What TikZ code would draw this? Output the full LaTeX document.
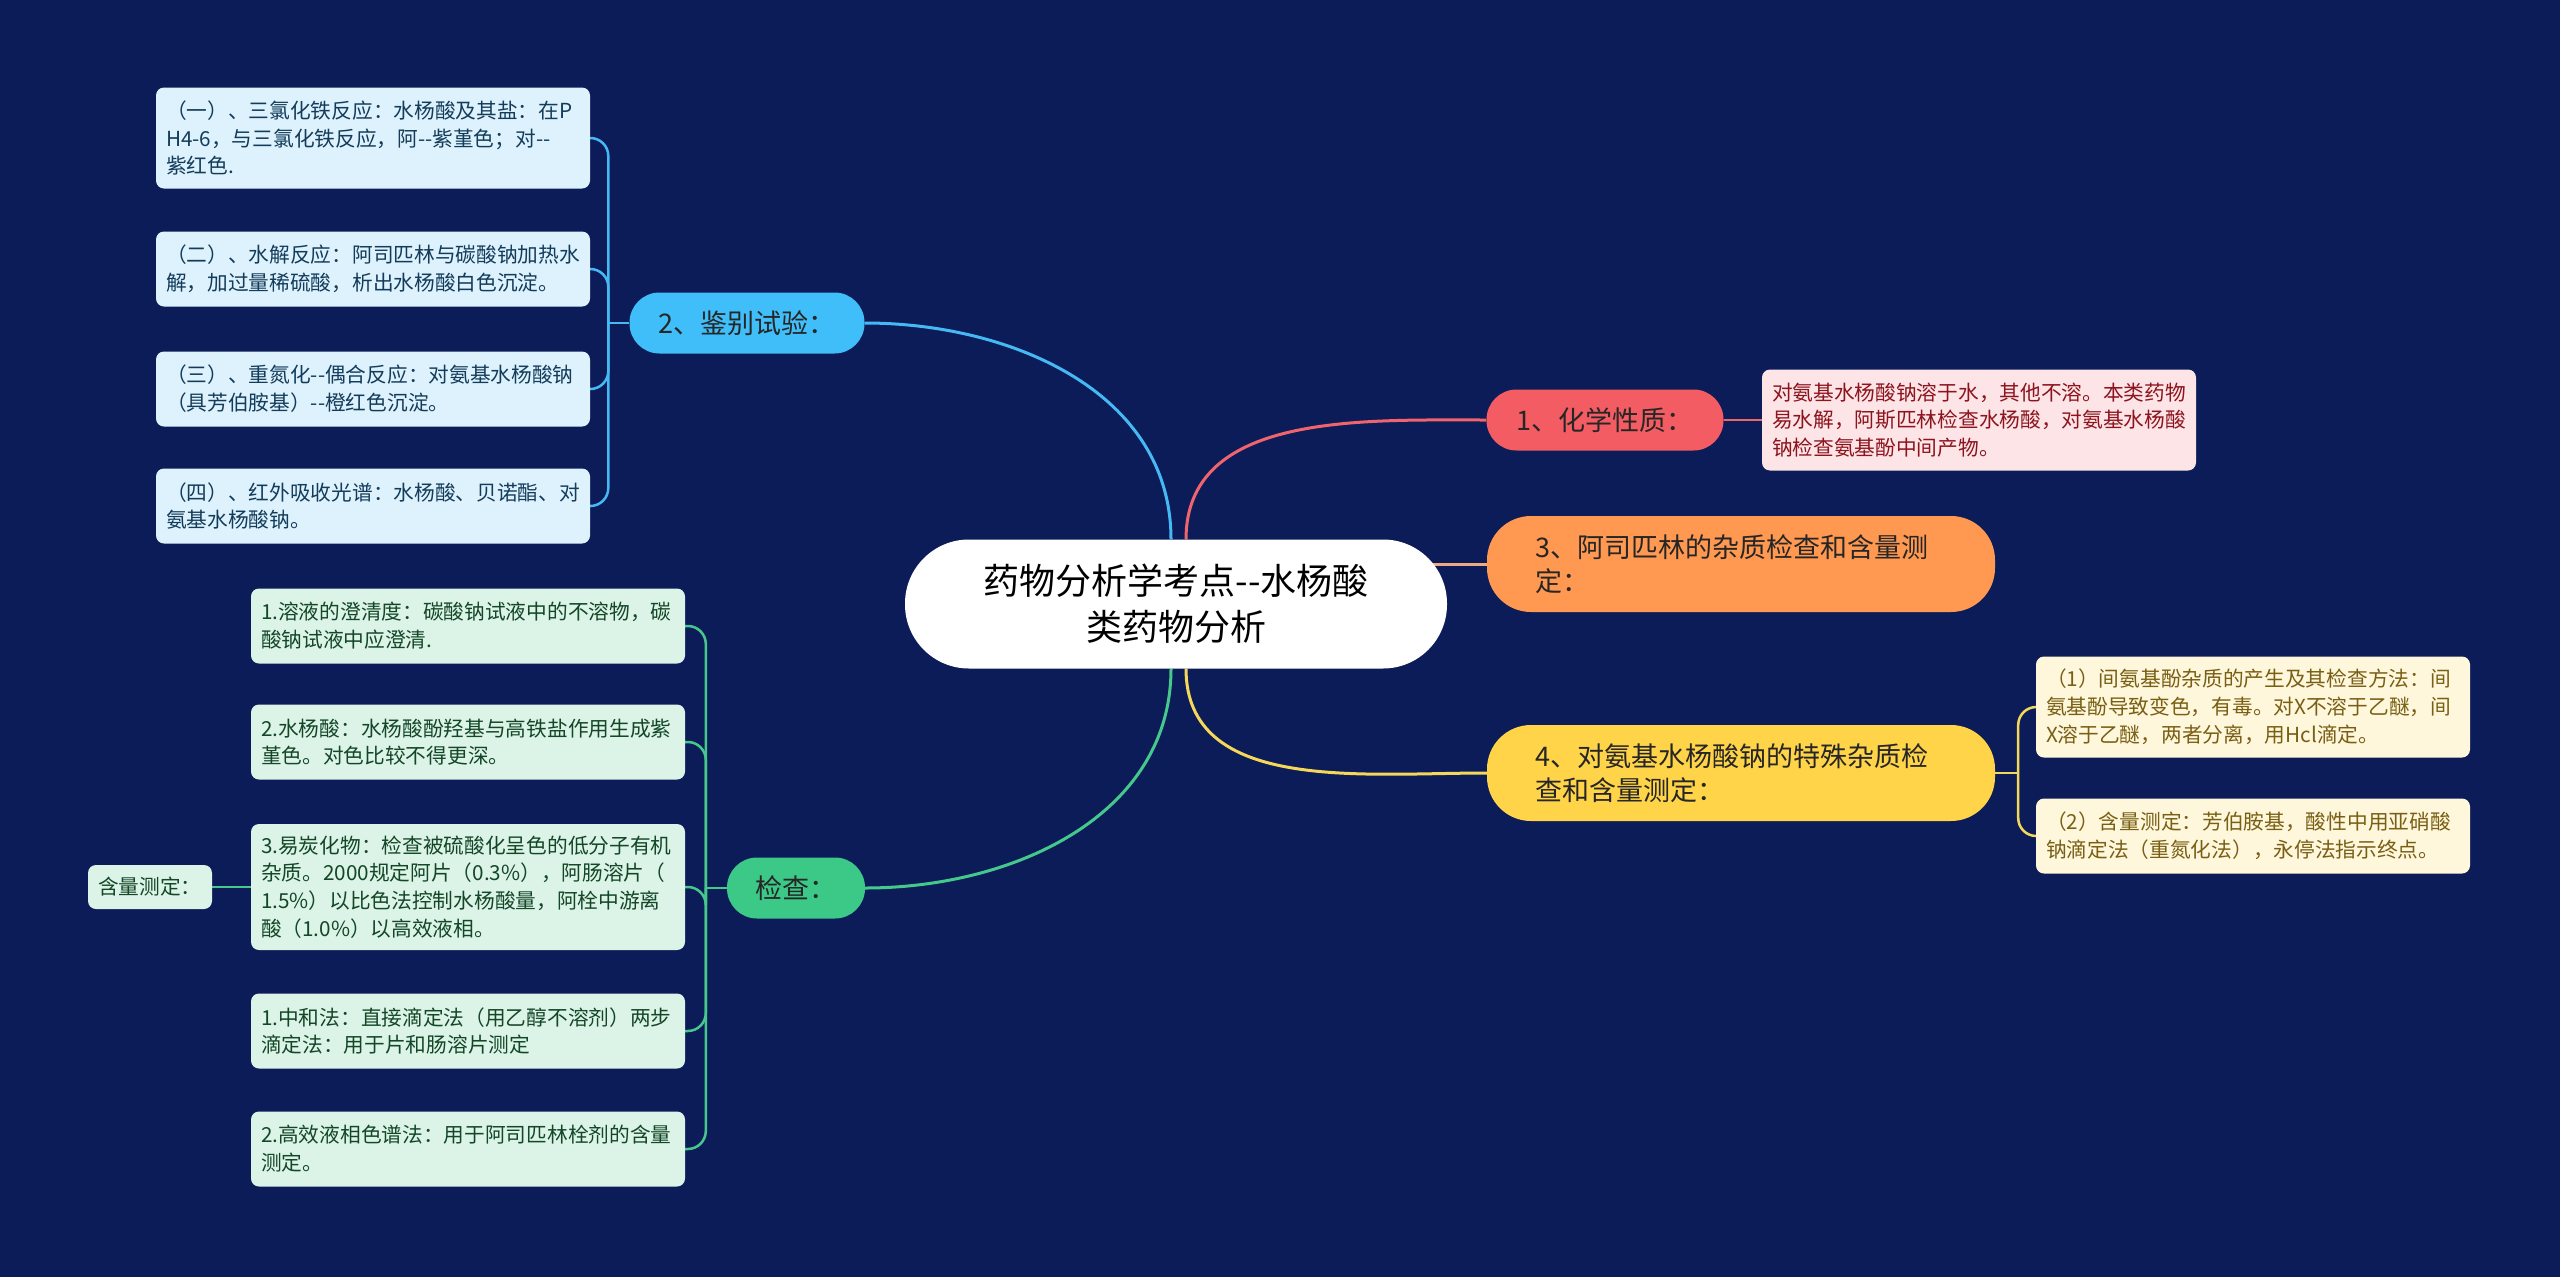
\documentclass[tikz,border=0pt]{standalone}
\usepackage{fontspec}
\setmainfont{Noto Sans CJK SC}
\usetikzlibrary{backgrounds}

\definecolor{bg}{RGB}{12,28,88}
\definecolor{redb}{RGB}{242,92,98}
\definecolor{redl}{RGB}{253,228,230}
\definecolor{redt}{RGB}{140,20,30}
\definecolor{redk}{RGB}{240,100,110}
\definecolor{orangeb}{RGB}{255,152,80}
\definecolor{orangek}{RGB}{240,170,130}
\definecolor{yellowb}{RGB}{255,212,72}
\definecolor{yellowl}{RGB}{255,247,220}
\definecolor{yellowt}{RGB}{120,95,20}
\definecolor{yellowk}{RGB}{245,215,90}
\definecolor{blueb}{RGB}{64,190,250}
\definecolor{bluel}{RGB}{221,242,253}
\definecolor{bluet}{RGB}{20,60,90}
\definecolor{bluek}{RGB}{70,185,245}
\definecolor{greenb}{RGB}{60,200,135}
\definecolor{greenl}{RGB}{220,244,231}
\definecolor{greent}{RGB}{20,70,40}
\definecolor{greenk}{RGB}{70,200,140}

\begin{document}
\begin{tikzpicture}[x=1pt,y=-1pt,
  every node/.style={inner sep=0pt},
  topic/.style={fill=white,rounded corners=64pt,minimum width=542pt,
    minimum height=129pt,align=center,text=black,
    font=\fontsize{36}{46}\selectfont},
  branch/.style={rounded corners=30pt,minimum height=61pt,align=center,
    text=black!85,font=\fontsize{27}{34}\selectfont},
  twoline/.style={rounded corners=44pt,minimum height=96pt,inner xsep=48pt,
    text width=412pt,align=left},
  leaf/.style={rounded corners=8pt,inner xsep=10pt,text width=414pt,
    align=left,font=\fontsize{20.7}{27.8}\selectfont},
  two/.style={minimum height=75pt},
  three/.style={minimum height=101pt},
  four/.style={minimum height=126pt},
  redleaf/.style={leaf,fill=redl,text=redt},
  yellowleaf/.style={leaf,fill=yellowl,text=yellowt},
  blueleaf/.style={leaf,fill=bluel,text=bluet},
  greenleaf/.style={leaf,fill=greenl,text=greent},
  link/.style={line width=3pt},
  sublink/.style={line width=2.5pt,rounded corners=18pt}]

  \useasboundingbox (0,0) rectangle (2560,1277);

  \node[topic] (root) at (1176,604) {药物分析学考点-{}-水杨酸\\类药物分析};

  \node[branch,fill=redb,minimum width=237pt] (chem) at (1605,420) {1、化学性质：};
  \node[redleaf,three] (chemd) at (1979,420)
    {对氨基水杨酸钠溶于水，其他不溶。本类药物\\易水解，阿斯匹林检查水杨酸，对氨基水杨酸\\钠检查氨基酚中间产物。};

  \node[branch,twoline,fill=orangeb] (asp) at (1741,564) {3、阿司匹林的杂质检查和含量测\\定：};

  \node[branch,twoline,fill=yellowb] (pas) at (1741,773) {4、对氨基水杨酸钠的特殊杂质检\\查和含量测定：};
  \node[yellowleaf,three] (pasd1) at (2253,707)
    {（1）间氨基酚杂质的产生及其检查方法：间\\氨基酚导致变色，有毒。对X不溶于乙醚，间\\X溶于乙醚，两者分离，用Hcl滴定。};
  \node[yellowleaf,two] (pasd2) at (2253,836)
    {（2）含量测定：芳伯胺基，酸性中用亚硝酸\\钠滴定法（重氮化法），永停法指示终点。};

  \node[branch,fill=blueb,minimum width=235pt] (ident) at (747,323) {2、鉴别试验：};
  \node[blueleaf,three] (id1) at (373,138)
    {（一）、三氯化铁反应：水杨酸及其盐：在P\\H4-6，与三氯化铁反应，阿-{}-紫堇色；对-{}-\\紫红色.};
  \node[blueleaf,two] (id2) at (373,269)
    {（二）、水解反应：阿司匹林与碳酸钠加热水\\解，加过量稀硫酸，析出水杨酸白色沉淀。};
  \node[blueleaf,two] (id3) at (373,389)
    {（三）、重氮化-{}-偶合反应：对氨基水杨酸钠\\（具芳伯胺基）-{}-橙红色沉淀。};
  \node[blueleaf,two] (id4) at (373,506)
    {（四）、红外吸收光谱：水杨酸、贝诺酯、对\\氨基水杨酸钠。};

  \node[branch,fill=greenb,minimum width=138pt] (check) at (796,888) {检查：};
  \node[greenleaf,two] (ch1) at (468,626)
    {1.溶液的澄清度：碳酸钠试液中的不溶物，碳\\酸钠试液中应澄清.};
  \node[greenleaf,two] (ch2) at (468,742)
    {2.水杨酸：水杨酸酚羟基与高铁盐作用生成紫\\堇色。对色比较不得更深。};
  \node[greenleaf,four] (ch3) at (468,887)
    {3.易炭化物：检查被硫酸化呈色的低分子有机\\杂质。2000规定阿片（0.3\%），阿肠溶片（\\1.5\%）以比色法控制水杨酸量，阿栓中游离\\酸（1.0\%）以高效液相。};
  \node[greenleaf,two] (ch4) at (468,1031)
    {1.中和法：直接滴定法（用乙醇不溶剂）两步\\滴定法：用于片和肠溶片测定};
  \node[greenleaf,two] (ch5) at (468,1149)
    {2.高效液相色谱法：用于阿司匹林栓剂的含量\\测定。};
  \node[leaf,fill=greenl,text=greent,text width=104pt,minimum height=44pt] (content) at (150,887) {含量测定：};

  \coordinate (pasj) at ([xshift=23pt]pas.east);
  \coordinate (identj) at ([xshift=-21pt]ident.west);
  \coordinate (checkj) at ([xshift=-21pt]check.west);

  \begin{scope}[on background layer]
    \fill[bg] (0,0) rectangle (2560,1277);

    \draw[link,bluek] ([xshift=-5pt]root.north) to[out=90,in=0] (ident.east);
    \draw[link,redk] ([xshift=10pt]root.north) to[out=90,in=180] (chem.west);
    \draw[link,orangek] (asp.west) -- (asp.west -| root.center);
    \draw[link,yellowk] ([xshift=10pt]root.south) to[out=-90,in=180] (pas.west);
    \draw[link,greenk] ([xshift=-5pt]root.south) to[out=-90,in=0] (check.east);

    \draw[sublink,redk] (chem.east) -- (chemd.west);

    \draw[sublink,yellowk] (pas.east) -- (pasj);
    \foreach \n in {pasd1,pasd2}
      \draw[sublink,yellowk] (pasj) |- (\n.west);

    \draw[sublink,bluek] (ident.west) -- (identj);
    \foreach \n in {id1,id2,id3,id4}
      \draw[sublink,bluek] (identj) |- (\n.east);

    \draw[sublink,greenk] (check.west) -- (checkj);
    \foreach \n in {ch1,ch2,ch3,ch4,ch5}
      \draw[sublink,greenk] (checkj) |- (\n.east);
    \draw[sublink,greenk] (ch3.west) -- (content.east);
  \end{scope}
\end{tikzpicture}
\end{document}
